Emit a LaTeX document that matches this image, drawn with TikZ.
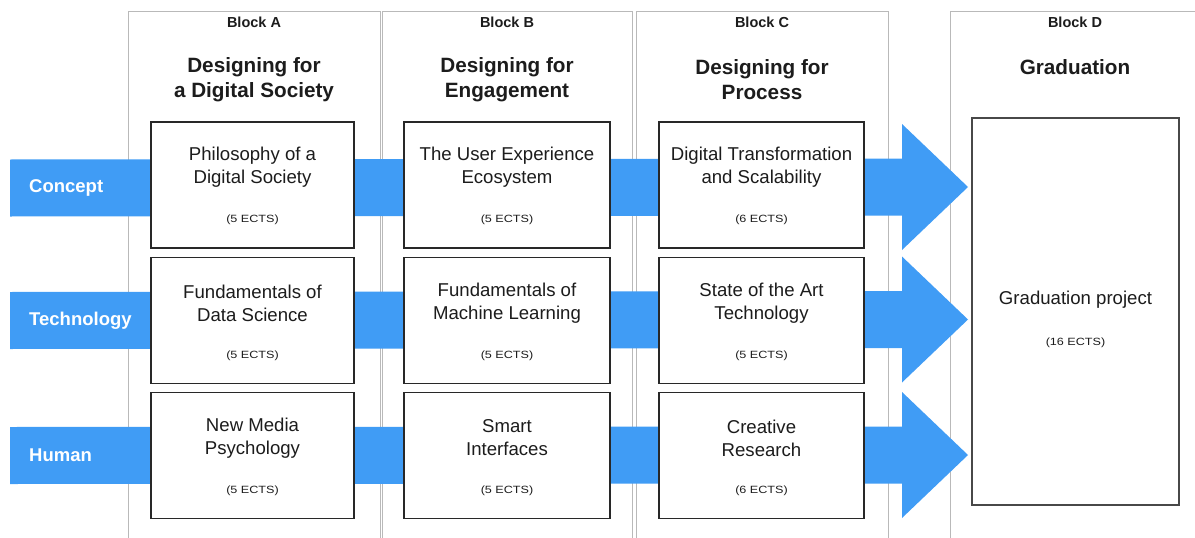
\documentclass[tikz,border=0pt]{standalone}
\usepackage{fontspec}
\setmainfont{Liberation Sans}
\usetikzlibrary{calc}

\definecolor{flowblue}{RGB}{64,156,245}
\definecolor{colline}{RGB}{185,185,185}
\definecolor{boxline}{RGB}{40,40,40}
\definecolor{ink}{RGB}{28,28,28}

% one blue band per row: starts at #1, ends in an arrow head whose tip is #2
\newcommand{\flowrow}[2]{%
  \fill[flow] ($(#1)+(0,-28.5)$) -- ($(#2)+(-66,-28.5)$) -- ($(#2)+(-66,-63)$)
    -- (#2) -- ($(#2)+(-66,63)$) -- ($(#2)+(-66,28.5)$) -- ($(#1)+(0,28.5)$) -- cycle;}

\begin{document}
\begin{tikzpicture}[x=1pt,y=-1pt,
  column/.style={draw=colline, line width=1.4pt, fill=white, inner sep=0pt,
    anchor=north west, minimum height=560pt},
  course/.style={draw=boxline, line width=1.5pt, fill=white, inner sep=0pt,
    minimum width=205pt, minimum height=126pt},
  blocklabel/.style={font=\bfseries\fontsize{14.5}{17}\selectfont, text=ink},
  blocktitle/.style={font=\bfseries\fontsize{20.7}{25}\selectfont, text=ink, align=center},
  coursetitle/.style={font=\fontsize{18.6}{23}\selectfont, text=ink, align=center},
  credits/.style={font=\fontsize{10.5}{12}\selectfont, text=ink},
  rowlabel/.style={font=\bfseries\fontsize{18.5}{20}\selectfont, text=white,
    anchor=west, inner sep=0pt},
  flow/.style={fill=flowblue}
]
\useasboundingbox (0,0) rectangle (1195,538);
\begin{scope}
\clip (0,0) rectangle (1195,538);

% block columns
\node[column, minimum width=252pt] (colA) at (128,11) {};
\node[column, minimum width=250pt] (colB) at (382,11) {};
\node[column, minimum width=252pt] (colC) at (636,11) {};
\node[column, minimum width=260pt] (colD) at (950,11) {};

\node[blocklabel] (labA) at (254,22) {Block A};
\node[blocklabel] (labB) at (507,22) {Block B};
\node[blocklabel] (labC) at (762,22) {Block C};
\node[blocklabel] (labD) at (1075,22) {Block D};

\node[blocktitle] (titA) at (254,79.5) {Designing for\\a Digital Society};
\node[blocktitle] (titB) at (507,79.5) {Designing for\\Engagement};
\node[blocktitle] (titC) at (762,79.5) {Designing for\\Process};
\node[blocktitle] (titD) at (1075,67) {Graduation};

% row bands with arrows into the graduation block
\coordinate (r1) at (10,188);   \coordinate (t1) at (968,187);
\coordinate (r2) at (10,320.5); \coordinate (t2) at (968,319.5);
\coordinate (r3) at (10,455.5); \coordinate (t3) at (968,455);
\flowrow{r1}{t1}
\flowrow{r2}{t2}
\flowrow{r3}{t3}

\node[rowlabel] (rowConcept) at (29,188) {Concept};
\node[rowlabel] (rowTech) at (29,320.5) {Technology};
\node[rowlabel] (rowHuman) at (29,455.5) {Human};

% courses
\node[course, minimum width=203pt] (a1) at (252.5,185) {};
\node[course, minimum width=203pt] (a2) at (252.5,320.5) {};
\node[course, minimum width=203pt] (a3) at (252.5,455.5) {};
\node[course, minimum width=206pt] (b1) at (507,185) {};
\node[course, minimum width=206pt] (b2) at (507,320.5) {};
\node[course, minimum width=206pt] (b3) at (507,455.5) {};
\node[course] (c1) at (761.5,185) {};
\node[course] (c2) at (761.5,320.5) {};
\node[course] (c3) at (761.5,455.5) {};

\node[coursetitle] (a1t) at ($(a1)+(0,-17.5)$) {Philosophy of a\\Digital Society};
\node[coursetitle] (a2t) at ($(a2)+(0,-17.5)$) {Fundamentals of\\Data Science};
\node[coursetitle] (a3t) at ($(a3)+(0,-17.5)$) {New Media\\Psychology};
\node[coursetitle] (b1t) at ($(b1)+(0,-17.5)$) {The User Experience\\Ecosystem};
\node[coursetitle] (b2t) at ($(b2)+(0,-17.5)$) {Fundamentals of\\Machine Learning};
\node[coursetitle] (b3t) at ($(b3)+(0,-17.5)$) {Smart\\Interfaces};
\node[coursetitle] (c1t) at ($(c1)+(0,-17.5)$) {Digital Transformation\\and Scalability};
\node[coursetitle] (c2t) at ($(c2)+(0,-17.5)$) {State of the Art\\Technology};
\node[coursetitle] (c3t) at ($(c3)+(0,-17.5)$) {Creative\\Research};

\node[credits] (a1c) at ($(a1)+(0,35)$) {\scalebox{1.2}[1]{(5 ECTS)}};
\node[credits] (a2c) at ($(a2)+(0,35)$) {\scalebox{1.2}[1]{(5 ECTS)}};
\node[credits] (a3c) at ($(a3)+(0,35)$) {\scalebox{1.2}[1]{(5 ECTS)}};
\node[credits] (b1c) at ($(b1)+(0,35)$) {\scalebox{1.2}[1]{(5 ECTS)}};
\node[credits] (b2c) at ($(b2)+(0,35)$) {\scalebox{1.2}[1]{(5 ECTS)}};
\node[credits] (b3c) at ($(b3)+(0,35)$) {\scalebox{1.2}[1]{(5 ECTS)}};
\node[credits] (c1c) at ($(c1)+(0,35)$) {\scalebox{1.2}[1]{(6 ECTS)}};
\node[credits] (c2c) at ($(c2)+(0,35)$) {\scalebox{1.2}[1]{(5 ECTS)}};
\node[credits] (c3c) at ($(c3)+(0,35)$) {\scalebox{1.2}[1]{(6 ECTS)}};

% graduation project
\node[course, draw=boxline!85, minimum width=207pt, minimum height=387pt] (grad) at (1075.5,311.5) {};
\node[coursetitle] (gradt) at (1075.5,300) {Graduation project};
\node[credits] (gradc) at (1075.5,343) {\scalebox{1.2}[1]{(16 ECTS)}};
\end{scope}
\end{tikzpicture}
\end{document}
